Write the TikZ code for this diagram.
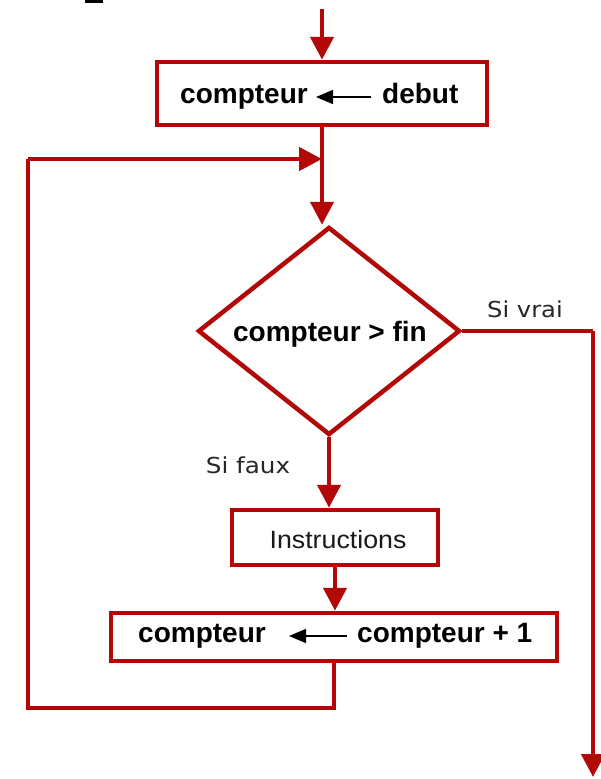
\documentclass[tikz,border=0pt]{standalone}
\usepackage{fontspec}
\setmainfont{Liberation Sans}
\newfontfamily\labfont{DejaVu Sans}
\usetikzlibrary{shapes.geometric,arrows.meta}
\definecolor{fred}{RGB}{178,8,8}
\begin{document}
\begin{tikzpicture}[x=1pt,y=-1pt,
  redline/.style={draw=fred,line width=4.5pt},
  redarrow/.style={redline,-{Triangle[length=23pt,width=23pt]}},
  box/.style={rectangle,draw=fred,line width=4.5pt,fill=white,inner sep=0},
  btxt/.style={inner sep=0,anchor=base west,font=\fontsize{28}{32}\selectfont\bfseries},
  inarrow/.style={draw=black,line width=1.6pt,-{Triangle[length=17pt,width=14pt]}},
  lab/.style={inner sep=0,anchor=base,text=black!85,font=\labfont\fontsize{22}{26}\selectfont}
]
\useasboundingbox (0,0) rectangle (601,779);
\fill (85,0) rectangle (103,2.5);

% nodes
\node[box,minimum width=330pt,minimum height=63pt] (box1) at (322,93.5) {};
\node[diamond,draw=fred,line width=4.5pt,fill=white,inner sep=0,
      minimum width=262pt,minimum height=208pt] (dia) at (329,331) {};
\node[box,minimum width=206pt,minimum height=55pt] (instr) at (335,537.5) {};
\node[box,minimum width=446pt,minimum height=48pt] (box4) at (334,637) {};

% texts
\node[btxt] (c1) at (180,103) {compteur};
\node[btxt] (d1) at (382,103) {debut};
\node[btxt,anchor=base] (diat) at (330,341) {compteur > fin};
\node[inner sep=0,anchor=base,text=black!90,font=\fontsize{25}{28}\selectfont] (instrt) at (338,548) {\scalebox{1.07}[1]{Instructions}};
\node[btxt] (c4) at (138,642) {compteur};
\node[btxt] (d4) at (357,642) {compteur + 1};
\node[lab] (vrai) at (525,317) {\scalebox{1.1}[1]{Si vrai}};
\node[lab] (faux) at (248,473) {\scalebox{1.12}[1]{Si faux}};

% inner arrows
\coordinate (a1t) at (371,97);
\coordinate (a1h) at (316,97);
\draw[inarrow] (a1t) -- (a1h);
\coordinate (a4t) at (347,636);
\coordinate (a4h) at (289,636);
\draw[inarrow] (a4t) -- (a4h);

% connectors
\coordinate (top) at (322,9);
\draw[redarrow] (top) -- (box1.north);
\draw[redarrow] (box1.south) -- (box1.south |- dia.north);
\draw[redarrow] (dia.south) -- (dia.south |- instr.north);
\draw[redarrow] (instr.south) -- (instr.south |- box4.north);
\coordinate (lb) at (28,708);
\coordinate (lt) at (28,159);
\draw[redline] (box4.south) |- (lb) -- (lt);
\draw[redarrow] (lt) -- (lt -| box1.south);
\coordinate (rt) at (593,331);
\coordinate (rb) at (593,777);
\draw[redline] (dia.east) -- (rt);
\draw[redarrow] (rt) -- (rb);
\end{tikzpicture}
\end{document}
